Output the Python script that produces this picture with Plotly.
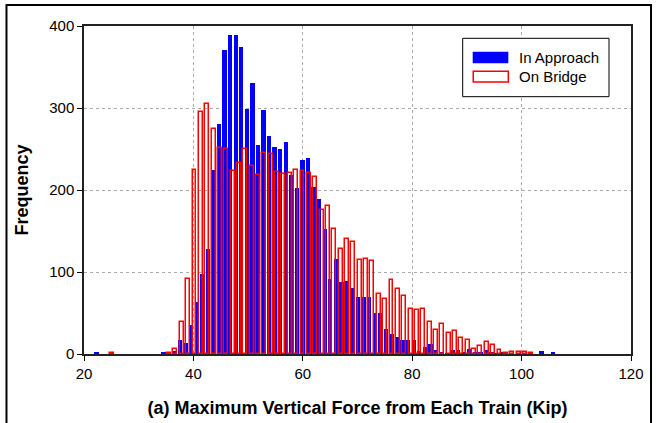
import plotly.graph_objects as go

# Histogram bins (kip): first bin centre and bin width for each series
approach_x0 = 22.31
approach_dx = 1.017
bridge_x0 = 25.1
bridge_dx = 1.1616

# Frequencies
approach_freq = [
    1.5, 0, 0, 0, 0, 0, 0, 0, 0, 0, 0, 0, 1.5, 0, 4, 17, 13, 35, 63, 97,
    128, 225, 281, 371, 389, 389, 374, 299, 331, 255, 298, 266, 253, 250, 259, 218, 202, 236, 239, 204,
    189, 152, 92, 116, 88, 89, 81, 69, 70, 69, 50, 50, 31, 25, 21, 17, 17, 17, 4, 9,
    12, 5, 3, 1, 5, 5, 2, 6, 3, 3, 5, 2, 1, 1.5, 0, 0, 0, 0, 0, 0,
    4, 0, 1.5,
]
bridge_freq = [
    1.5, 0, 0, 0, 0, 0, 0, 0, 0, 1.5, 6, 39, 91, 224, 295, 305, 274, 251, 250, 223,
    233, 250, 229, 218, 245, 244, 222, 219, 221, 225, 223, 221, 216, 176, 181, 153, 128, 140, 137, 115,
    116, 113, 73, 67, 90, 79, 71, 55, 54, 55, 39, 29, 36, 26, 28, 19.5, 17, 6.5, 10, 14.6,
    11, 5, 1.2, 2.8, 2.8, 2.8, 1.6,
]

series_names = ["In Approach", "On Bridge"]
x_ticks = [20, 40, 60, 80, 100, 120]
y_ticks = [0, 100, 200, 300, 400]

FONT = "Arial, Liberation Sans, sans-serif"

# empty bins are left undrawn (an outlined zero bar would show as a stray line)
approach_y = [v if v > 0 else None for v in approach_freq]
bridge_y = [v if v > 0 else None for v in bridge_freq]

fig = go.Figure()
fig.add_trace(go.Bar(
    x0=approach_x0, dx=approach_dx, y=approach_y, name=series_names[0],
    width=0.8, marker=dict(color="#0000ff", line=dict(width=0)),
))
fig.add_trace(go.Bar(
    x0=bridge_x0, dx=bridge_dx, y=bridge_y, name=series_names[1],
    width=0.72, marker=dict(color="rgba(0,0,0,0)", line=dict(color="#ff0000", width=1.5)),
))

fig.update_layout(
    width=656, height=423,
    margin=dict(l=84, r=25, t=26, b=69),
    paper_bgcolor="white", plot_bgcolor="white",
    barmode="overlay", bargap=0,
    showlegend=False,
    font=dict(family=FONT, size=15, color="black"),
)
fig.update_xaxes(
    range=[20, 120], tickvals=x_ticks, ticks="outside", ticklen=5, tickcolor="black",
    showline=True, linecolor="#222", linewidth=1.5, mirror=True, automargin=False,
    showgrid=True, gridcolor="#aaaaaa", griddash="dot", gridwidth=1, zeroline=False,
    tickfont=dict(size=15),
    title=dict(text="(a) Maximum Vertical Force from Each Train (Kip)",
               font=dict(size=18, weight="bold"), standoff=21),
)
fig.update_yaxes(
    range=[0, 400], tickvals=y_ticks, ticks="outside", ticklen=5, tickcolor="black",
    showline=True, linecolor="#222", linewidth=1.5, mirror=True, automargin=False,
    showgrid=True, gridcolor="#aaaaaa", griddash="dot", gridwidth=1, zeroline=False,
    tickfont=dict(size=15),
    title=dict(text="Frequency", font=dict(size=18, weight="bold"), standoff=16),
)

# Outer chart frame
fig.add_shape(type="rect", xref="paper", yref="paper",
              x0=-0.1417, x1=1.0366, y0=-0.2165, y1=1.064,
              line=dict(color="black", width=2), fillcolor="rgba(0,0,0,0)", layer="above")

# Legend box drawn manually (wide swatches as in the original)
fig.add_shape(type="rect", xref="paper", yref="paper",
              x0=0.6923, x1=0.9598, y0=0.7845, y1=0.9625,
              line=dict(color="black", width=1), fillcolor="white", layer="above")
fig.add_shape(type="rect", xref="paper", yref="paper",
              x0=0.7106, x1=0.7757, y0=0.8863, y1=0.9216,
              line=dict(width=0), fillcolor="#0000ff", layer="above")
fig.add_shape(type="rect", xref="paper", yref="paper",
              x0=0.7116, x1=0.7757, y0=0.8293, y1=0.8619,
              line=dict(color="#ff0000", width=1.5), fillcolor="white", layer="above")
fig.add_annotation(xref="paper", yref="paper", x=0.7921, y=0.9049, text=series_names[0],
                   showarrow=False, xanchor="left", yanchor="middle", font=dict(size=15))
fig.add_annotation(xref="paper", yref="paper", x=0.7921, y=0.8454, text=series_names[1],
                   showarrow=False, xanchor="left", yanchor="middle", font=dict(size=15))

fig.write_html("out.html")
